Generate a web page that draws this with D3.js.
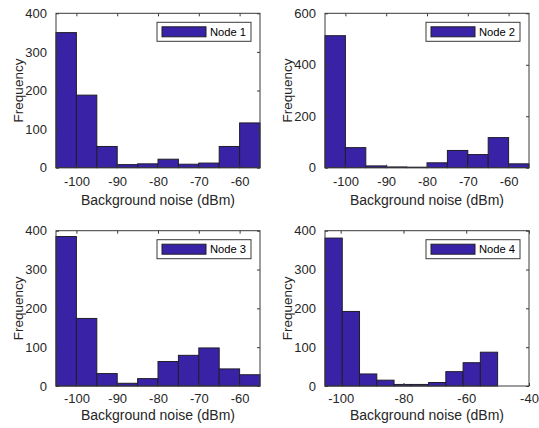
<!DOCTYPE html>
<html>
<head>
<meta charset="utf-8">
<script src="https://cdn.jsdelivr.net/npm/d3@7"></script>
<style>
  html, body { margin: 0; padding: 0; background: #fff; }
  svg { display: block; font-family: "Liberation Sans", Arial, Helvetica, sans-serif; }
</style>
</head>
<body>
<svg id="chart" width="539" height="428"></svg>
<script>
// Histogram counts per node (background noise, dBm)
const node1Counts = [350, 188, 55, 8, 10, 22, 9, 12, 55, 116];
const node2Counts = [513, 78, 7, 3, 2, 19, 67, 51, 117, 15];
const node3Counts = [385, 174, 32, 7, 19, 63, 79, 98, 44, 29];
const node4Counts = [381, 192, 31, 15, 4, 4, 9, 37, 60, 87];

// Bin layout: start edge and bin width for each node
const binStarts = [-105, -105, -105, -105];
const binWidths = [5, 5, 5, 5.5];

// Axis ranges and ticks
const xDomains = [[-105, -55], [-105, -55], [-105, -55], [-105, -40]];
const xTicks = [[-100, -90, -80, -70, -60], [-100, -90, -80, -70, -60], [-100, -90, -80, -70, -60], [-100, -80, -60, -40]];
const yDomains = [[0, 400], [0, 600], [0, 400], [0, 400]];
const yTicks = [[0, 100, 200, 300, 400], [0, 200, 400, 600], [0, 100, 200, 300, 400], [0, 100, 200, 300, 400]];
const legendLabels = ["Node 1", "Node 2", "Node 3", "Node 4"];
const allCounts = [node1Counts, node2Counts, node3Counts, node4Counts];

const xLabel = "Background noise (dBm)";
const yLabel = "Frequency";

const barFill = "#3a22a6";
const barStroke = "#1e1e2a";
const axisColor = "#3a3a3a";

// Panel geometry (axes box in pixels)
const panels = [
  { left: 56,  top: 13.3,  width: 204, height: 154.4, tickOff: 18, labelOff: 37 },
  { left: 325, top: 13.3,  width: 204, height: 154.4, tickOff: 18, labelOff: 37 },
  { left: 56,  top: 230.7, width: 204, height: 155.3, tickOff: 17, labelOff: 34 },
  { left: 325, top: 230.7, width: 204, height: 155.3, tickOff: 17, labelOff: 34 }
];

const svg = d3.select("#chart");

panels.forEach((p, i) => {
  const counts = allCounts[i];
  const bins = counts.map((c, k) => ({
    x0: binStarts[i] + k * binWidths[i],
    x1: binStarts[i] + (k + 1) * binWidths[i],
    count: c
  }));

  const x = d3.scaleLinear().domain(xDomains[i]).range([0, p.width]);
  const y = d3.scaleLinear().domain(yDomains[i]).range([p.height, 0]);

  const g = svg.append("g").attr("transform", `translate(${p.left},${p.top})`);

  // Bars
  g.selectAll("rect.bar")
    .data(bins.filter(b => b.count > 0))
    .join("rect")
    .attr("class", "bar")
    .attr("x", d => x(d.x0))
    .attr("y", d => y(d.count))
    .attr("width", d => x(d.x1) - x(d.x0))
    .attr("height", d => y(0) - y(d.count))
    .attr("fill", barFill)
    .attr("stroke", barStroke)
    .attr("stroke-width", 1);

  const tickLen = 3;

  // Bottom axis with labels
  const xAxis = g.append("g").attr("transform", `translate(0,${p.height})`)
    .call(d3.axisBottom(x).tickValues(xTicks[i]).tickSize(-tickLen).tickFormat(d3.format("d")));
  xAxis.select(".domain").remove();
  xAxis.selectAll("line").attr("stroke", axisColor);
  xAxis.selectAll("text").attr("font-size", 13).attr("fill", "#262626")
    .attr("dy", null).attr("y", p.tickOff)
    .text(d => d < 0 ? "-" + Math.abs(d) : d);

  // Top ticks
  const xTop = g.append("g")
    .call(d3.axisTop(x).tickValues(xTicks[i]).tickSize(-tickLen).tickFormat(""));
  xTop.select(".domain").remove();
  xTop.selectAll("line").attr("stroke", axisColor);

  // Left axis with labels
  const yAxis = g.append("g")
    .call(d3.axisLeft(y).tickValues(yTicks[i]).tickSize(-tickLen).tickPadding(6 + tickLen));
  yAxis.select(".domain").remove();
  yAxis.selectAll("line").attr("stroke", axisColor);
  yAxis.selectAll("text").attr("font-size", 13).attr("fill", "#262626");

  // Right ticks
  const yRight = g.append("g").attr("transform", `translate(${p.width},0)`)
    .call(d3.axisRight(y).tickValues(yTicks[i]).tickSize(-tickLen).tickFormat(""));
  yRight.select(".domain").remove();
  yRight.selectAll("line").attr("stroke", axisColor);

  // Axes box
  g.append("rect")
    .attr("x", 0).attr("y", 0)
    .attr("width", p.width).attr("height", p.height)
    .attr("fill", "none").attr("stroke", axisColor).attr("stroke-width", 1);

  // Axis titles
  g.append("text")
    .attr("x", p.width / 2).attr("y", p.height + p.labelOff)
    .attr("text-anchor", "middle").attr("font-size", 14).attr("fill", "#262626")
    .text(xLabel);

  g.append("text")
    .attr("transform", `translate(-33,${p.height / 2}) rotate(-90)`)
    .attr("text-anchor", "middle").attr("font-size", 13.5).attr("fill", "#262626")
    .text(yLabel);

  // Legend
  const lg = g.append("g").attr("transform", `translate(${p.width - 103},9)`);
  lg.append("rect")
    .attr("width", 94).attr("height", 19)
    .attr("fill", "#fff").attr("stroke", axisColor).attr("stroke-width", 1);
  lg.append("rect")
    .attr("x", 5).attr("y", 4.5).attr("width", 44).attr("height", 10)
    .attr("fill", barFill).attr("stroke", barStroke).attr("stroke-width", 1);
  lg.append("text")
    .attr("x", 53).attr("y", 13.5)
    .attr("font-size", 11.2).attr("fill", "#000")
    .text(legendLabels[i]);
});
</script>
</body>
</html>
